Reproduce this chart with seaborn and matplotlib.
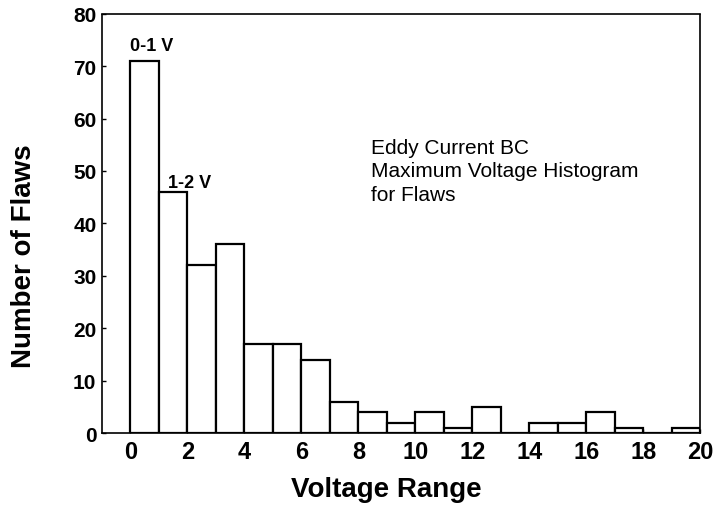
import numpy as np
import pandas as pd
import matplotlib
matplotlib.use("Agg")
import matplotlib.pyplot as plt
import seaborn as sns

# Data
bin_left = list(range(20))
counts = [71, 46, 32, 36, 17, 17, 14, 6, 4, 2, 4, 1, 5, 0, 2, 2, 4, 1, 0, 1]
xticks = list(range(0, 21, 2))
yticks = list(range(0, 81, 10))
bar_label_idx = [0, 1]
bar_label_text = ["0-1 V", "1-2 V"]

sns.set_theme(style="ticks")
plt.rcParams['font.family'] = ['Liberation Sans', 'DejaVu Sans']
plt.rcParams['text.color'] = 'black'
plt.rcParams['axes.labelcolor'] = 'black'
plt.rcParams['xtick.color'] = 'black'
plt.rcParams['ytick.color'] = 'black'
plt.rcParams['axes.edgecolor'] = 'black'

df = pd.DataFrame({"v": [b + 0.5 for b in bin_left], "n": counts})

fig = plt.figure(figsize=(7.13, 5.10), dpi=100)
ax = fig.add_axes([0.143, 0.149, 0.839, 0.822])

sns.histplot(data=df, x="v", weights="n", binwidth=1, binrange=(0, 20),
             color="white", edgecolor="black", linewidth=1.6, alpha=1, ax=ax)

label_dx = [0.74, 1.07]
label_dy = [2.0, 1.0]
for k, i in enumerate(bar_label_idx):
    ax.text(bin_left[i] + label_dx[k], counts[i] + label_dy[k], bar_label_text[k],
            ha="center", va="baseline", fontsize=13, fontweight="bold")

ax.text(8.45, 56.3, "Eddy Current BC\nMaximum Voltage Histogram\nfor Flaws",
        ha="left", va="top", fontsize=15, linespacing=1.3)

ax.set_xlim(-1, 20)
ax.set_ylim(0, 80)
ax.set_xticks(xticks)
ax.set_yticks(yticks)
ax.set_xticklabels([str(t) for t in xticks], fontsize=17, fontweight="bold")
ax.set_yticklabels([str(t) for t in yticks], fontsize=15, fontweight="bold")
ax.tick_params(direction="in", length=3, width=1)
ax.tick_params(axis="x", pad=5)
ax.tick_params(axis="y", pad=4)
ax.set_xlabel("Voltage Range", fontsize=20, fontweight="bold")
ax.set_ylabel("Number of Flaws", fontsize=20, fontweight="bold")
ax.xaxis.set_label_coords(0.475, -0.103)
ax.yaxis.set_label_coords(-0.108, 0.425)
for s in ax.spines.values():
    s.set_visible(True)
    s.set_linewidth(1.2)
    s.set_linestyle((0, (3, 1)))

fig.savefig("out.png", dpi=100)
